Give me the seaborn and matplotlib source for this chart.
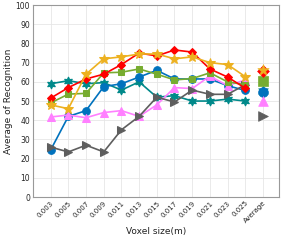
import matplotlib
matplotlib.use("Agg")
import matplotlib.pyplot as plt
import seaborn as sns
import pandas as pd

# x categories (last one is the average over all voxel sizes)
voxel_labels = ["0.003", "0.005", "0.007", "0.009", "0.011", "0.013", "0.015",
                "0.017", "0.019", "0.021", "0.023", "0.025", "Average"]

# values
teal_hex = [59, 60.6, 59, 59.6, 55.7, 60, 52, 52.8, 50, 50, 51, 50, 55]
blue_circ = [24.5, 42, 45, 57.5, 59, 62.5, 66, 61.5, 61.5, 61.5, 58, 55.5, 54.8]
pink_tri = [41.7, 42.7, 41.3, 44, 45, 42, 48, 57, 56.5, 63, 58, 61, 50]
gray_tri = [26, 23.5, 27, 23.5, 35, 42, 52, 49.5, 55.7, 53.5, 53.5, 58.5, 42]
green_sq = [49, 53.6, 54, 64.7, 65, 66.7, 64, 61, 61.7, 64.7, 60, 58.5, 60.4]
red_dia = [51.5, 57, 61.5, 64, 69, 75, 73.5, 76.6, 75.5, 66.7, 62.5, 56.7, 65.6]
orange_star = [48, 46, 64, 72, 73, 74.5, 74.5, 72, 73, 70, 69, 62.7, 66.3]

styles = [
    ("teal", teal_hex, "#00898A", (6, 1, 0), 6.5),
    ("blue", blue_circ, "#0072BD", "o", 5.5),
    ("pink", pink_tri, "#FF80FF", "^", 5.5),
    ("gray", gray_tri, "#5E5E5E", ">", 5.5),
    ("green", green_sq, "#77AC30", "s", 5),
    ("red", red_dia, "#FF0000", "D", 4.5),
    ("orange", orange_star, "#EDB120", "*", 7),
]

sns.set_style("whitegrid")
plt.rcParams["font.family"] = ["DejaVu Sans"]

fig = plt.figure(figsize=(2.84, 2.40), dpi=100)
ax = fig.add_axes([0.116, 0.179, 0.866, 0.80])

n_main = len(voxel_labels) - 1
pos = list(range(len(voxel_labels)))

for name, vals, col, mk, ms in styles:
    df = pd.DataFrame({"x": pos[:n_main], "y": vals[:n_main]})
    sns.lineplot(data=df, x="x", y="y", ax=ax, color=col, marker=mk,
                 markersize=ms, markeredgecolor=col, linewidth=1.2)
    # average point, no connecting line
    sns.scatterplot(x=[pos[-1]], y=[vals[-1]], ax=ax, color=col, marker=mk,
                    s=(ms + 1.5) ** 2, edgecolor=col, linewidth=0.5, zorder=3)

ax.set_xlim(-1, 12.9)
ax.set_ylim(0, 100)
ax.set_yticks(range(0, 101, 10))
ax.set_xticks(pos)
ax.set_xticklabels(voxel_labels, rotation=45, ha="right", rotation_mode="anchor")
ax.tick_params(axis="both", labelsize=5.5, length=2, direction="in", pad=2,
               colors="#262626")
ax.tick_params(axis="x", labelsize=5)
ax.grid(True, color="#E6E6E6", linewidth=0.6)
for sp in ax.spines.values():
    sp.set_color("#999999")
    sp.set_linewidth(0.8)
ax.set_xlabel("Voxel size(m)", fontsize=6.5, labelpad=2, color="#222222")
ax.set_ylabel("Average of Recognition", fontsize=6.5, labelpad=2, color="#222222")

fig.savefig("out.png", dpi=100)
